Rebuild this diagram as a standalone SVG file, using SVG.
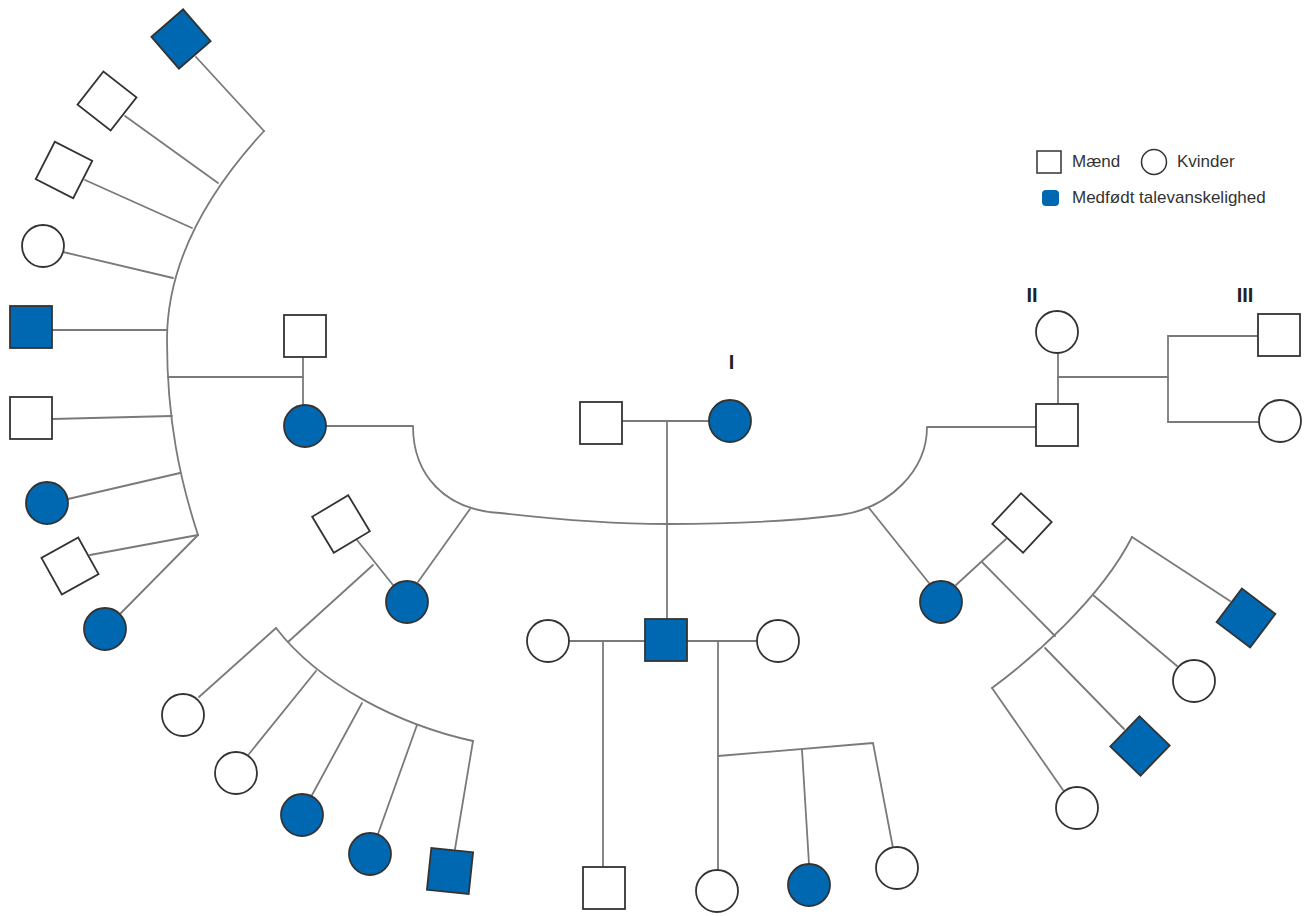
<svg xmlns="http://www.w3.org/2000/svg" width="1312" height="916" viewBox="0 0 1312 916">
<style>
.ln{fill:none;stroke:#7a7a7a;stroke-width:1.8;stroke-linejoin:round;stroke-linecap:round}
.m{fill:#fff;stroke:#333;stroke-width:1.8}
.f{fill:#fff;stroke:#333;stroke-width:1.8}
.a{fill:#0067b1}
.lbl{font-family:"Liberation Sans",Arial,sans-serif;font-size:17px;fill:#333}
.gen{font-family:"Liberation Sans",Arial,sans-serif;font-size:20px;font-weight:bold;fill:#222;text-anchor:middle}
</style>
<defs>
<rect id="sq" x="-21" y="-21" width="42" height="42"/>
<circle id="ci" r="21"/>
</defs>
<rect width="1312" height="916" fill="#fff"/>
<g id="connectors" class="ln">
<!-- left fan -->
<path d="M264,131 C205,195 167,265 167,340 C167,420 180,480 198,535"/>
<path d="M196,57 L264,131"/>
<path d="M125,116 L218,183"/>
<path d="M85,180 L192,228"/>
<path d="M63,252 L173,278"/>
<path d="M52,330 L167,330"/>
<path d="M52,419 L172,416"/>
<path d="M68,499 L180,473"/>
<path d="M90,555 L198,535"/>
<path d="M120,614 L198,535"/>
<path d="M168,377 L303,377"/>
<path d="M303,357 L303,406"/>
<!-- big sibship curve -->
<path d="M326,426 H413 C413,475 445,510 500,513 C560,520 620,524 667,524 C740,524 800,520 840,515 C890,508 927,470 927,427 H1036"/>
<!-- couple I -->
<path d="M622,421 H709"/>
<path d="M667,421 V619"/>
<!-- central family -->
<path d="M569,641 H645"/>
<path d="M687,641 H757"/>
<path d="M603,641 V867"/>
<path d="M718,641 V870"/>
<path d="M718,756 L873,743 L893,848"/>
<path d="M802,750 L809,864"/>
<!-- left subfamily -->
<path d="M418,582 L470,509"/>
<path d="M357,540 L393,585"/>
<path d="M373,565 L288,642"/>
<path d="M276,628 C320,685 400,725 473,741"/>
<path d="M199,697 L276,628"/>
<path d="M249,754 L316,671"/>
<path d="M312,795 L362,703"/>
<path d="M378,834 L417,725"/>
<path d="M455,849 L473,741"/>
<!-- right subfamily -->
<path d="M869,508 L929,583"/>
<path d="M956,585 L1006,539"/>
<path d="M982,562 L1055,636"/>
<path d="M992,688 C1030,660 1100,600 1132,537"/>
<path d="M1063,790 L992,688"/>
<path d="M1124,729 L1045,648"/>
<path d="M1177,666 L1093,595"/>
<path d="M1230,601 L1132,537"/>
<!-- top right -->
<path d="M1058,353 V404"/>
<path d="M1058,377 H1168"/>
<path d="M1168,336 V422"/>
<path d="M1168,336 H1258"/>
<path d="M1168,422 H1259"/>
</g>
<!-- left fan nodes -->
<g id="lf1"><use href="#sq" class="m a" transform="translate(181,39) rotate(-41)"/></g>
<g id="lf2"><use href="#sq" class="m" transform="translate(107,101) rotate(38)"/></g>
<g id="lf3"><use href="#sq" class="m" transform="translate(64,170) rotate(27)"/></g>
<g id="lf4"><use href="#ci" class="f" x="43" y="246"/></g>
<g id="lf5"><use href="#sq" class="m a" x="31" y="327"/></g>
<g id="lf6"><use href="#sq" class="m" x="31" y="418"/></g>
<g id="lf7"><use href="#ci" class="f a" x="47" y="503"/></g>
<g id="lf8"><use href="#sq" class="m" transform="translate(70,566) rotate(-29)"/></g>
<g id="lf9"><use href="#ci" class="f a" x="105" y="629"/></g>
<!-- left couple -->
<g id="lc-m"><use href="#sq" class="m" x="305" y="336"/></g>
<g id="lc-f"><use href="#ci" class="f a" x="305" y="426"/></g>
<!-- generation I couple -->
<g id="g1-m"><use href="#sq" class="m" x="601" y="423"/></g>
<g id="g1-f"><use href="#ci" class="f a" x="730" y="421"/></g>
<!-- central -->
<g id="c-m"><use href="#sq" class="m a" x="666" y="640"/></g>
<g id="c-w1"><use href="#ci" class="f" x="548" y="641"/></g>
<g id="c-w2"><use href="#ci" class="f" x="778" y="641"/></g>
<g id="c-s1"><use href="#sq" class="m" x="604" y="888"/></g>
<g id="c-d1"><use href="#ci" class="f" x="717" y="891"/></g>
<g id="c-d2"><use href="#ci" class="f a" x="809" y="885"/></g>
<g id="c-d3"><use href="#ci" class="f" x="897" y="868"/></g>
<!-- left subfamily -->
<g id="ls-h"><use href="#sq" class="m" transform="translate(341,524) rotate(-31)"/></g>
<g id="ls-w"><use href="#ci" class="f a" x="407" y="602"/></g>
<g id="ls-c1"><use href="#ci" class="f" x="183" y="715"/></g>
<g id="ls-c2"><use href="#ci" class="f" x="236" y="773"/></g>
<g id="ls-c3"><use href="#ci" class="f a" x="302" y="815"/></g>
<g id="ls-c4"><use href="#ci" class="f a" x="370" y="854"/></g>
<g id="ls-c5"><use href="#sq" class="m a" transform="translate(450,871) rotate(6)"/></g>
<!-- right subfamily -->
<g id="rs-h"><use href="#sq" class="m" transform="translate(1022,523) rotate(43)"/></g>
<g id="rs-w"><use href="#ci" class="f a" x="941" y="602"/></g>
<g id="rs-c1"><use href="#ci" class="f" x="1077" y="808"/></g>
<g id="rs-c2"><use href="#sq" class="m a" transform="translate(1140,746) rotate(44)"/></g>
<g id="rs-c3"><use href="#ci" class="f" x="1194" y="681"/></g>
<g id="rs-c4"><use href="#sq" class="m a" transform="translate(1246,618) rotate(37)"/></g>
<!-- top right -->
<g id="tr-m"><use href="#sq" class="m" x="1057" y="425"/></g>
<g id="tr-f"><use href="#ci" class="f" x="1057" y="332"/></g>
<g id="tr-s"><use href="#sq" class="m" x="1279" y="335"/></g>
<g id="tr-d"><use href="#ci" class="f" x="1280" y="421"/></g>
<!-- generation labels -->
<g id="labels">
<text class="gen" x="731.5" y="369">I</text>
<text class="gen" x="1032" y="302">II</text>
<text class="gen" x="1245" y="302">III</text>
</g>
<!-- legend -->
<g id="legend">
<rect x="1037" y="151" width="24" height="22" fill="#fff" stroke="#333" stroke-width="1.5"/>
<text class="lbl" x="1072" y="167">Mænd</text>
<circle cx="1154" cy="162" r="12.5" fill="#fff" stroke="#333" stroke-width="1.5"/>
<text class="lbl" x="1177" y="167">Kvinder</text>
<rect x="1042" y="190" width="17" height="16" rx="4" fill="#0067b1"/>
<text class="lbl" x="1072" y="203">Medfødt talevanskelighed</text>
</g>
</svg>
